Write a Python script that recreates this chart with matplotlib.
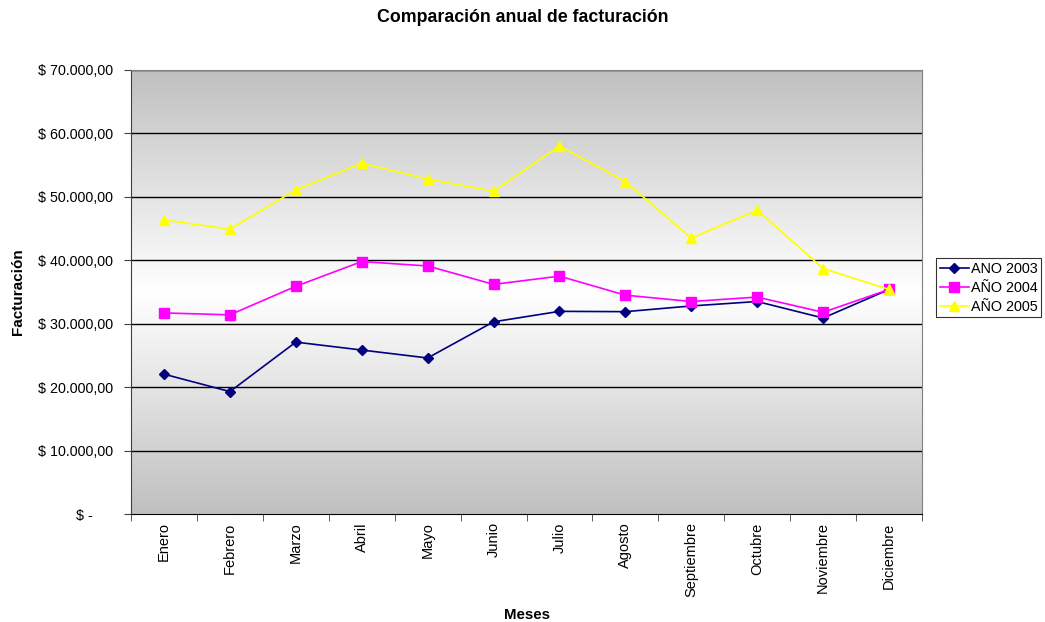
import numpy as np
import matplotlib.pyplot as plt
from matplotlib.ticker import FixedLocator, FuncFormatter
from matplotlib.colors import LinearSegmentedColormap

plt.rcParams['font.family'] = ['Liberation Sans', 'DejaVu Sans']

meses = ["Enero", "Febrero", "Marzo", "Abril", "Mayo", "Junio", "Julio",
         "Agosto", "Septiembre", "Octubre", "Noviembre", "Diciembre"]
anio_2003 = [22050, 19300, 27100, 25850, 24600, 30300, 31950, 31900, 32800, 33500, 30900, 35400]
anio_2004 = [31700, 31400, 35900, 39800, 39100, 36200, 37500, 34500, 33500, 34200, 31800, 35400]
anio_2005 = [46350, 44900, 51100, 55300, 52800, 50900, 58000, 52400, 43500, 47900, 38700, 35400]
series = ["ANO 2003", "AÑO 2004", "AÑO 2005"]

fig = plt.figure(figsize=(10.45, 6.22), dpi=100)
ax = fig.add_axes([0.1254, 0.1736, 0.7569, 0.7139])

x = np.arange(len(meses)) + 0.5

# gris arriba y abajo, blanco en el centro
grad = np.abs(np.linspace(-1, 1, 256))[:, None]
cmap = LinearSegmentedColormap.from_list("fondo", ["#ffffff", "#c0c0c0"])
ax.imshow(grad, cmap=cmap, aspect="auto", extent=[0, 12, 0, 70000],
          origin="lower", zorder=0, interpolation="bilinear")

for v in range(10000, 70001, 10000):
    ax.axhline(v, color="black", lw=1, zorder=1)

ax.plot(x, anio_2003, color="#000080", marker="D", ms=5, lw=1.2, label=series[0], zorder=3)
ax.plot(x, anio_2004, color="#ff00ff", marker="s", ms=7, lw=1.2, label=series[1], zorder=3)
ax.plot(x, anio_2005, color="#ffff00", marker="^", ms=7, lw=1.2, label=series[2], zorder=3)

ax.set_xlim(0, 12)
ax.set_ylim(0, 70000)

ax.xaxis.set_major_locator(FixedLocator(x))
ax.set_xticklabels(meses, rotation=90, fontsize=10.5)
ax.xaxis.set_minor_locator(FixedLocator(np.arange(0, 13)))
ax.tick_params(axis="x", which="major", length=0, pad=6)
ax.tick_params(axis="x", which="minor", length=5, direction="out", color="#404040")

def pesos(v, pos):
    if v == 0:
        return "$ -     "
    return "$ " + f"{v:,.2f}".replace(",", "X").replace(".", ",").replace("X", ".")

ax.yaxis.set_major_locator(FixedLocator(range(0, 70001, 10000)))
ax.yaxis.set_major_formatter(FuncFormatter(pesos))
ax.tick_params(axis="y", length=5, direction="out", labelsize=10.3, pad=8, color="#404040")

for s in ["top", "right"]:
    ax.spines[s].set_color("#808080")
ax.spines["left"].set_color("#404040")
ax.spines["bottom"].set_color("black")

ax.set_ylabel("Facturación", fontsize=11, fontweight="bold", labelpad=9)
ax.set_xlabel("Meses", fontsize=10.8, fontweight="bold", labelpad=8)
fig.text(0.5, 0.972, "Comparación anual de facturación", ha="center", va="center",
         fontsize=12.8, fontweight="bold")

leg = fig.legend(loc="upper left", bbox_to_anchor=(0.896, 0.585), fontsize=10.4,
                 frameon=True, fancybox=False, edgecolor="black", handlelength=2.0,
                 handletextpad=0.15, borderpad=0.25, labelspacing=0.35, borderaxespad=0)
leg.get_frame().set_linewidth(0.8)

fig.savefig("out.png", dpi=100)
